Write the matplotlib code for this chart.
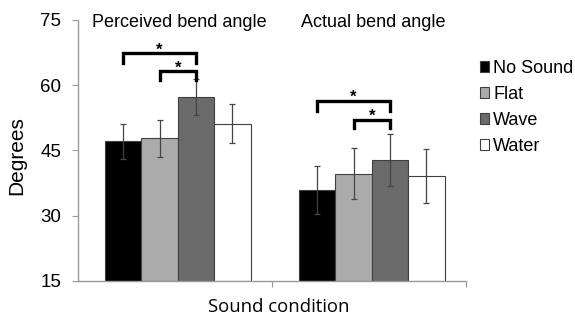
import matplotlib
matplotlib.use("Agg")
import matplotlib.pyplot as plt
import numpy as np

# data
groups = ["Perceived bend angle", "Actual bend angle"]
conditions = ["No Sound", "Flat", "Wave", "Water"]
means = {
    "No Sound": [47.1, 35.9],
    "Flat": [47.8, 39.7],
    "Wave": [57.3, 42.9],
    "Water": [51.2, 39.2],
}
errors = {
    "No Sound": [4.1, 5.5],
    "Flat": [4.3, 5.9],
    "Wave": [4.2, 6.0],
    "Water": [4.4, 6.2],
}
y_ticks = [15, 30, 45, 60, 75]

# significance brackets: (group, cond_a, cond_b, top, leg bottom)
brackets = [
    (0, "No Sound", "Wave", 67.4, 65.2),
    (0, "Flat", "Wave", 63.2, 61.2),
    (1, "No Sound", "Wave", 56.4, 54.0),
    (1, "Flat", "Wave", 52.1, 50.1),
]

colors = {"No Sound": "#000000", "Flat": "#ababab", "Wave": "#6b6b6b", "Water": "#ffffff"}

plt.rcParams['font.family'] = ['Liberation Sans', 'DejaVu Sans']

fig = plt.figure(figsize=(5.75, 3.17), dpi=100)
ax = fig.add_axes([0.1357, 0.1136, 0.8104 - 0.1357, 0.937 - 0.1136])

width = 0.1877
x = np.arange(len(groups)) + 0.014
offsets = {c: (i - 1.5) * width for i, c in enumerate(conditions)}

for c in conditions:
    ax.bar(x + offsets[c], np.array(means[c]) - 15, width, bottom=15,
           color=colors[c], edgecolor="#404040", linewidth=0.8, label=c, zorder=2)
    ax.errorbar(x + offsets[c], means[c], yerr=errors[c], fmt="none",
                ecolor="#444444", elinewidth=0.9, capsize=2.2, capthick=0.9, zorder=3)

for g, a, b, top, bot in brackets:
    xa = x[g] + offsets[a]
    xb = x[g] + offsets[b]
    ax.plot([xa, xa, xb, xb], [bot, top, top, bot], color="black", lw=2.4,
            solid_joinstyle="miter", zorder=4)
    ax.text((xa + xb) / 2, top - 1.0, "*", ha="center", va="bottom",
            fontsize=12, fontweight="bold", zorder=5)

for i, g in enumerate(groups):
    ax.text(i + 0.02, 74.5, g, ha="center", va="center", fontsize=13)

ax.set_xlim(-0.5, 1.5)
ax.set_ylim(15, 75)
ax.set_yticks(y_ticks)
ax.set_yticklabels([str(t) for t in y_ticks], fontsize=13.5)
ax.set_xticks([0.5, 1.5])
ax.set_xticklabels([])
ax.tick_params(axis="y", length=4, color="#999999", pad=8)
ax.tick_params(axis="x", length=4, color="#999999")

for s in ["top", "right"]:
    ax.spines[s].set_visible(False)
for s in ["left", "bottom"]:
    ax.spines[s].set_color("#999999")
    ax.spines[s].set_linewidth(1.0)

fig.text(0.030, 0.51, "Degrees", rotation=90, ha="center", va="center", fontsize=15)
fig.text(0.485, 0.03, "Sound condition", ha="center", va="center", fontsize=13.3,
         family=["Open Sans", "DejaVu Sans"])

leg = ax.legend(loc="upper left", bbox_to_anchor=(0.834, 0.811), bbox_transform=fig.transFigure,
                frameon=False, fontsize=13, handlelength=0.55, handleheight=0.55,
                handletextpad=0.2, labelspacing=0.5, borderaxespad=0, borderpad=0)

fig.savefig("out.png", dpi=100)
